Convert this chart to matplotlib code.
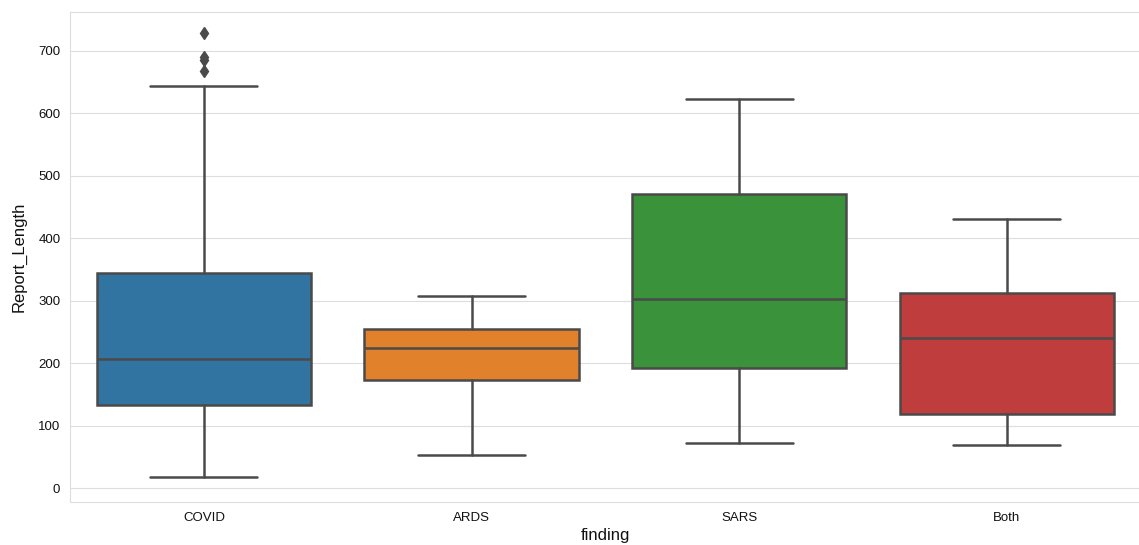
import matplotlib
matplotlib.use("Agg")
import matplotlib.pyplot as plt
import seaborn as sns

categories = ["COVID", "ARDS", "SARS", "Both"]
whislo = [18, 53, 73, 69]
q1 = [133, 173, 192, 118]
med = [207, 225, 302, 240]
q3 = [344, 254, 471, 312]
whishi = [644, 307, 622, 431]
fliers = [[668, 685, 690, 729], [], [], []]

colors = ["#3274a1", "#e1812c", "#3a923a", "#c03d3e"]
gray = "#4a4a4a"

sns.set_style("whitegrid")
plt.rcParams["font.family"] = ["Liberation Sans", "DejaVu Sans"]

fig = plt.figure(figsize=(11.39, 5.45), dpi=100)
ax = fig.add_axes([0.0615, 0.079, 0.94, 0.899])

stats = []
for i, c in enumerate(categories):
    stats.append(dict(label=c, whislo=whislo[i], q1=q1[i], med=med[i],
                      q3=q3[i], whishi=whishi[i], fliers=fliers[i]))

bp = ax.bxp(stats, positions=range(len(categories)), widths=0.8,
            patch_artist=True, showfliers=True,
            boxprops=dict(edgecolor=gray, linewidth=1.8),
            medianprops=dict(color=gray, linewidth=1.8),
            whiskerprops=dict(color=gray, linewidth=1.8),
            capprops=dict(color=gray, linewidth=1.8),
            flierprops=dict(marker="d", markerfacecolor=gray,
                            markeredgecolor=gray, markersize=6))
for patch, col in zip(bp["boxes"], colors):
    patch.set_facecolor(col)

ax.set_xlim(-0.5, 3.5)
ax.set_ylim(-22, 762)
ax.set_yticks([0, 100, 200, 300, 400, 500, 600, 700])
ax.tick_params(axis="both", labelsize=9.5, labelcolor="#111111")
ax.set_xlabel("finding", fontsize=12, color="#111111", labelpad=3)
ax.set_ylabel("Report_Length", fontsize=12, color="#111111", labelpad=8)
ax.xaxis.grid(False)
ax.yaxis.grid(True, color="#dddddd")
for s in ax.spines.values():
    s.set_color("#dddddd")

fig.savefig("out.png", dpi=100)
